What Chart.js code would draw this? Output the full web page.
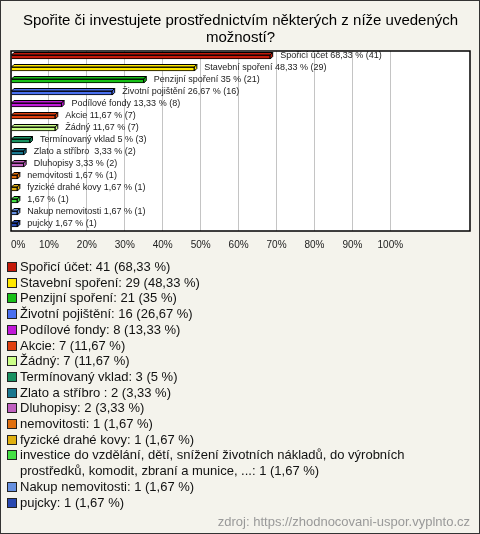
<!DOCTYPE html>
<html>
<head>
<meta charset="utf-8">
<script src="https://cdn.jsdelivr.net/npm/chart.js@4"></script>
<style>
  html, body { margin: 0; padding: 0; }
  body { width: 480px; height: 534px; overflow: hidden; }
  #wrap {
    position: relative;
    width: 480px; height: 534px;
    box-sizing: border-box;
    border: 1px solid #333;
    background: #f4f3ec;
    font-family: "Liberation Sans", Arial, sans-serif;
  }
  #chartBox { position: absolute; left: -1px; top: -1px; width: 480px; height: 266px; }
  #legend {
    position: absolute; left: 6px; top: 258px; width: 466px;
    font-size: 13px; line-height: 15.7px; color: #111;
  }
  .item { display: flex; align-items: flex-start; }
  .sw {
    flex: none; width: 8px; height: 8px; border: 1px solid #222;
    margin: 3px 3px 0 0;
  }
  #source {
    position: absolute; right: 9px; top: 513px;
    font-size: 13px; color: #999;
  }
</style>
</head>
<body>
<div id="wrap">
  <div id="chartBox"><canvas id="chart" width="480" height="266"></canvas></div>
  <div id="legend"></div>
  <div id="source">zdroj: https://zhodnocovani-uspor.vyplnto.cz</div>
</div>
<script>
// chart data
const titleLines = ['Spořite či investujete prostřednictvím některých z níže uvedených', 'možností?'];
const categories = [
  'Spořicí účet', 'Stavební spoření', 'Penzijní spoření', 'Životní pojištění',
  'Podílové fondy', 'Akcie', 'Žádný', 'Termínovaný vklad', 'Zlato a stříbro ',
  'Dluhopisy', 'nemovitosti', 'fyzické drahé kovy',
  'investice do vzdělání, dětí, snížení životních nákladů, do výrobních prostředků, komodit, zbraní a munice, ...',
  'Nakup nemovitosti', 'pujcky'
];
// names shown next to the bars (the long one is left out there)
const barNames = [
  'Spořicí účet', 'Stavební spoření', 'Penzijní spoření', 'Životní pojištění',
  'Podílové fondy', 'Akcie', 'Žádný', 'Termínovaný vklad', 'Zlato a stříbro ',
  'Dluhopisy', 'nemovitosti', 'fyzické drahé kovy', '', 'Nakup nemovitosti', 'pujcky'
];
const counts = [41, 29, 21, 16, 8, 7, 7, 3, 2, 2, 1, 1, 1, 1, 1];
const percents = [68.33, 48.33, 35, 26.67, 13.33, 11.67, 11.67, 5, 3.33, 3.33, 1.67, 1.67, 1.67, 1.67, 1.67];
const colors = [
  '#c41a0a', '#ffe800', '#18c018', '#4a70f0', '#c018d8', '#e04010', '#ccff88',
  '#189060', '#1a7890', '#c060c0', '#e07010', '#e0b010', '#44e044', '#6690e0', '#2848b0'
];
// ticks past 100 only pad the axis, they get no label and no grid line
const xTicks = [0, 10, 20, 30, 40, 50, 60, 70, 80, 90, 100, 110, 120];
const xTickMaxShown = 100;

const fmt = (v) => String(v).replace('.', ',');

// white plot box with black frame
const plotFrame = {
  id: 'plotFrame',
  beforeDraw(chart) {
    const { ctx, chartArea: a } = chart;
    ctx.save();
    ctx.fillStyle = '#fff';
    ctx.fillRect(a.left, a.top, a.right - a.left, a.bottom - a.top);
    ctx.restore();
  },
  afterDraw(chart) {
    const { ctx, chartArea: a } = chart;
    ctx.save();
    ctx.strokeStyle = '#000';
    ctx.lineWidth = 1.5;
    ctx.strokeRect(a.left, a.top, a.right - a.left, a.bottom - a.top);
    ctx.restore();
  }
};

// pseudo 3D top and side faces plus the value labels
const bars3d = {
  id: 'bars3d',
  afterDatasetsDraw(chart) {
    const { ctx } = chart;
    const meta = chart.getDatasetMeta(0);
    const d = 2.5;
    ctx.save();
    ctx.lineWidth = 1;
    ctx.strokeStyle = '#000';
    meta.data.forEach((el, i) => {
      const { x, y, base, height } = el.getProps(['x', 'y', 'base', 'height'], true);
      const top = y - height / 2;
      const bottom = y + height / 2;
      ctx.fillStyle = colors[i];
      ctx.beginPath();
      ctx.moveTo(base, top);
      ctx.lineTo(base + d, top - d);
      ctx.lineTo(x + d, top - d);
      ctx.lineTo(x, top);
      ctx.closePath();
      ctx.fill();
      ctx.stroke();
      ctx.beginPath();
      ctx.moveTo(x, top);
      ctx.lineTo(x + d, top - d);
      ctx.lineTo(x + d, bottom - d);
      ctx.lineTo(x, bottom);
      ctx.closePath();
      ctx.fill();
      ctx.stroke();

      const name = barNames[i] ? barNames[i] + ' ' : '';
      ctx.fillStyle = '#222';
      ctx.font = '9px "Liberation Sans", Arial, sans-serif';
      ctx.textBaseline = 'middle';
      ctx.textAlign = 'left';
      ctx.fillText(`${name}${fmt(percents[i])} % (${counts[i]})`, x + 10, y - 1.5);
    });
    ctx.restore();
  }
};

new Chart(document.getElementById('chart'), {
  type: 'bar',
  data: {
    labels: categories,
    datasets: [{
      data: percents,
      backgroundColor: colors,
      borderColor: '#000',
      borderWidth: 1,
      barThickness: 4
    }]
  },
  options: {
    indexAxis: 'y',
    responsive: false,
    animation: false,
    layout: {
      padding: { left: 11, right: 10, top: 0, bottom: 7 }
    },
    plugins: {
      legend: { display: false },
      tooltip: { enabled: false },
      title: {
        display: true,
        text: titleLines,
        color: '#000',
        font: { family: '"Liberation Sans", Arial, sans-serif', size: 15, weight: 'normal', lineHeight: 1.1 },
        padding: { top: 13, bottom: 5 }
      }
    },
    scales: {
      x: {
        min: 0,
        max: 121,
        afterBuildTicks: (axis) => {
          axis.ticks = xTicks.map(v => ({ value: v }));
        },
        ticks: {
          align: 'inner',
          padding: 8,
          color: '#222',
          font: { family: '"Liberation Sans", Arial, sans-serif', size: 10 },
          callback: (v) => (v <= xTickMaxShown ? v + '%' : '')
        },
        grid: {
          drawTicks: false,
          color: (c) => (c.tick && c.tick.value <= xTickMaxShown ? '#c4c4c4' : 'rgba(0,0,0,0)'),
          lineWidth: 1
        },
        border: { display: false }
      },
      y: {
        display: false
      }
    }
  },
  plugins: [plotFrame, bars3d]
});

// legend list below the chart
const legend = document.getElementById('legend');
categories.forEach((name, i) => {
  const row = document.createElement('div');
  row.className = 'item';
  const sw = document.createElement('span');
  sw.className = 'sw';
  sw.style.background = colors[i];
  const txt = document.createElement('span');
  txt.textContent = `${name}: ${counts[i]} (${fmt(percents[i])} %)`;
  row.appendChild(sw);
  row.appendChild(txt);
  legend.appendChild(row);
});
</script>
</body>
</html>
